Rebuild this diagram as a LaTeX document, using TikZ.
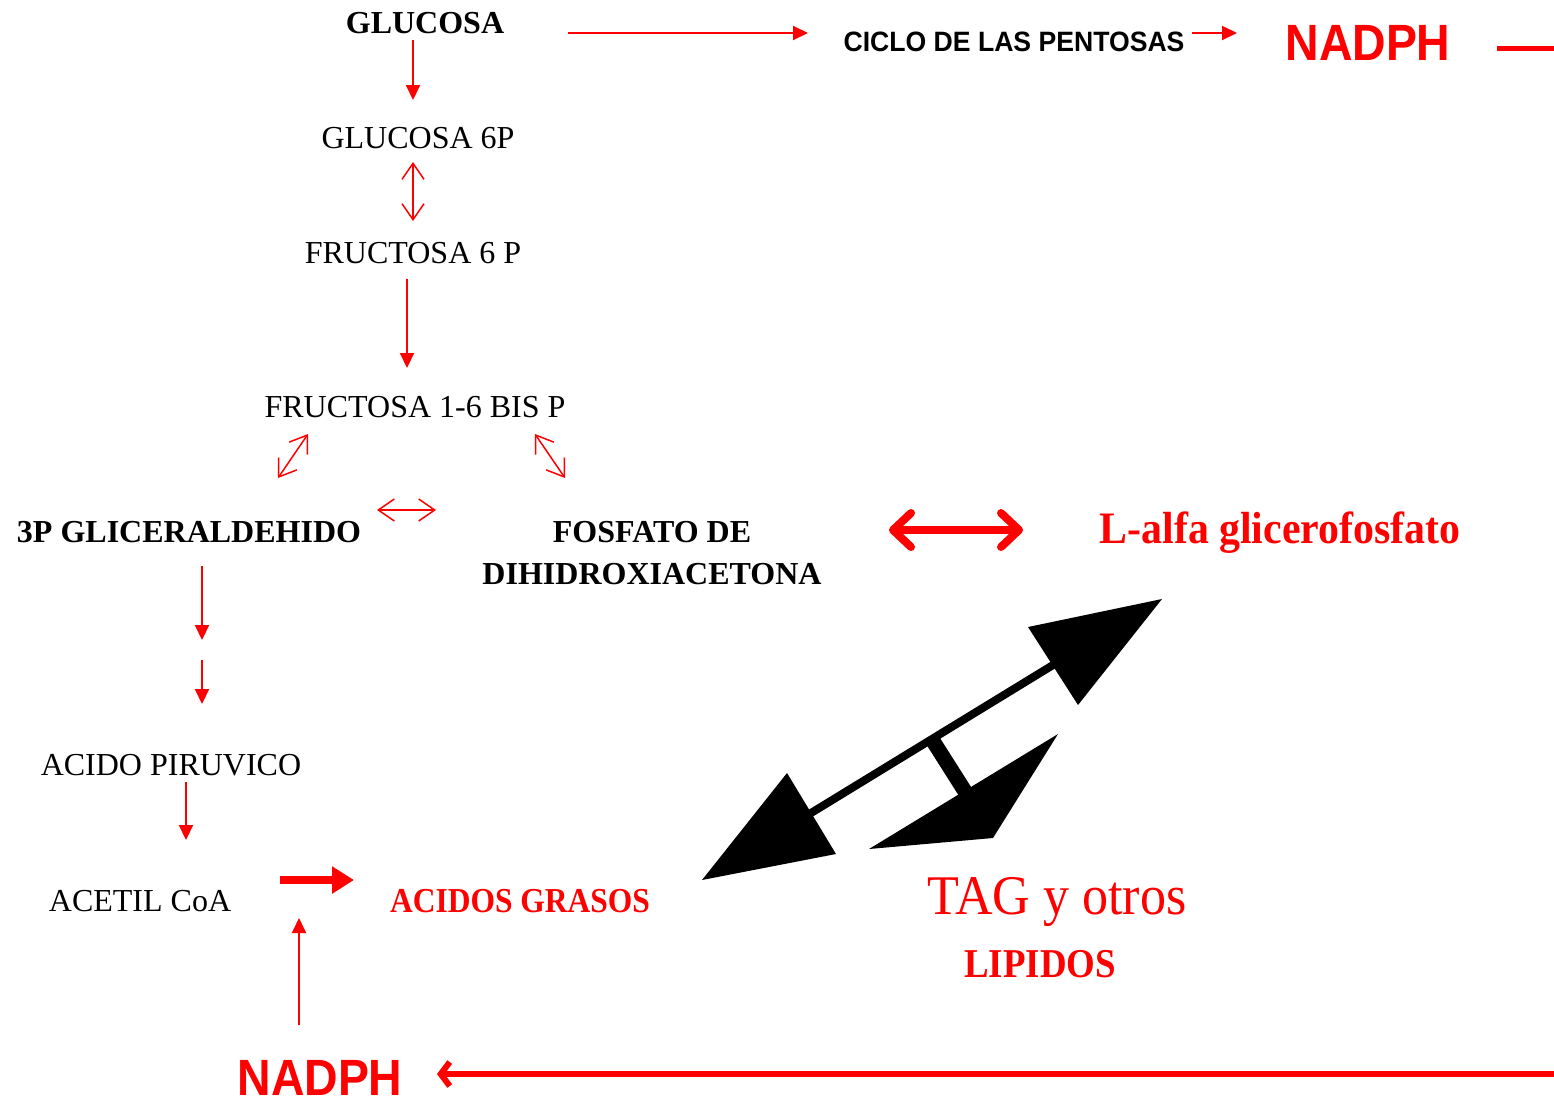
\documentclass[tikz,border=0pt]{standalone}
\usepackage{fontspec}
\setmainfont{Liberation Serif}
\newfontfamily\arialf{Liberation Sans}
\usetikzlibrary{arrows.meta}
\definecolor{rd}{RGB}{255,0,0}
\newcommand\sqz[2]{\scalebox{#1}[1]{#2}}
\tikzset{
  lbl/.style={anchor=base, inner sep=0pt, font=\fontsize{32}{42}\selectfont},
  blbl/.style={anchor=base, inner sep=0pt, font=\fontsize{32}{42}\selectfont\bfseries},
  redline/.style={draw=rd, line width=2pt},
  fwd/.style={redline, -{Triangle[length=15pt,width=14pt]}},
  rev/.style={draw=rd, line width=1.5pt, {Straight Barb[length=16pt,width=22pt]}-{Straight Barb[length=16pt,width=22pt]}},
  bigrev/.style={draw=rd, line width=8pt, {Straight Barb[length=18pt,width=34pt,round]}-{Straight Barb[length=18pt,width=34pt,round]}},
  bigfwd/.style={draw=rd, line width=8pt, -{Triangle[length=22pt,width=26pt]}},
  longback/.style={draw=rd, line width=6pt, -{Straight Barb[length=9pt,width=24pt]}},
  nadph/.style={anchor=base, inner sep=0pt, text=rd, font=\fontsize{51}{56}\selectfont\arialf\bfseries},
  blk/.style={fill=black},
}
\begin{document}
\begin{tikzpicture}[x=1pt,y=-1pt]
\useasboundingbox[fill=white] (0,0) rectangle (1554,1101);

% texts
\node[blbl] (glc) at (425,33) {GLUCOSA};
\node[anchor=base, inner sep=0pt, font=\fontsize{28}{32}\selectfont\arialf\bfseries] (ppp) at (1014,51) {\sqz{0.95}{CICLO DE LAS PENTOSAS}};
\node[nadph] (nadphA) at (1368,60) {\sqz{0.91}{NADPH}};
\node[lbl] (g6p) at (418,148) {GLUCOSA 6P};
\node[lbl] (f6p) at (413,263) {FRUCTOSA 6 P};
\node[lbl] (fbp) at (415,417) {FRUCTOSA 1-6 BIS P};
\node[blbl] (gap) at (189,542) {3P GLICERALDEHIDO};
\node[blbl, align=center] (dhap) at (652,584) {FOSFATO DE\\DIHIDROXIACETONA};
\node[anchor=base, inner sep=0pt, text=rd, font=\fontsize{45}{50}\selectfont\bfseries] (lgp) at (1280,543) {\sqz{0.93}{L-alfa glicerofosfato}};
\node[lbl] (pyr) at (171,775) {ACIDO PIRUVICO};
\node[lbl] (acoa) at (140,911) {ACETIL CoA};
\node[anchor=base, inner sep=0pt, text=rd, font=\fontsize{35}{40}\selectfont\bfseries] (fa) at (520,912) {\sqz{0.9}{ACIDOS GRASOS}};
\node[anchor=base, inner sep=0pt, text=rd, font=\fontsize{56}{60}\selectfont] (tag) at (1057,914) {\sqz{0.93}{TAG y otros}};
\node[anchor=base, inner sep=0pt, text=rd, font=\fontsize{41}{46}\selectfont\bfseries] (lip) at (1040,977) {\sqz{0.9}{LIPIDOS}};
\node[nadph] (nadphB) at (320,1095) {\sqz{0.91}{NADPH}};

% connector end points
\coordinate (c1a) at (413,40);   \coordinate (c1b) at (413,100);
\coordinate (c2a) at (568,33);   \coordinate (c2b) at (808,33);
\coordinate (c3a) at (1192,33);  \coordinate (c3b) at (1237,33);
\coordinate (c4a) at (1497,48);  \coordinate (c4b) at (1554,48);
\coordinate (c5a) at (413,162);  \coordinate (c5b) at (413,221);
\coordinate (c6a) at (407,279);  \coordinate (c6b) at (407,368);
\coordinate (c7a) at (308,434);  \coordinate (c7b) at (278,478);
\coordinate (c8a) at (535,434);  \coordinate (c8b) at (565,478);
\coordinate (c9a) at (377,510);  \coordinate (c9b) at (436,510);
\coordinate (c10a) at (889,530); \coordinate (c10b) at (1023,530);
\coordinate (c11a) at (202,566); \coordinate (c11b) at (202,640);
\coordinate (c12a) at (202,660); \coordinate (c12b) at (202,704);
\coordinate (c13a) at (186,782); \coordinate (c13b) at (186,840);
\coordinate (c14a) at (280,880); \coordinate (c14b) at (354,880);
\coordinate (c15a) at (299,1025); \coordinate (c15b) at (299,918);
\coordinate (c16a) at (1554,1074); \coordinate (c16b) at (437,1074);

\draw[fwd] (c1a) -- (c1b);
\draw[fwd] (c2a) -- (c2b);
\draw[fwd] (c3a) -- (c3b);
\draw[draw=rd, line width=5pt] (c4a) -- (c4b);
\draw[rev] (c5a) -- (c5b);
\draw[fwd] (c6a) -- (c6b);
\draw[rev] (c7a) -- (c7b);
\draw[rev] (c8a) -- (c8b);
\draw[rev] (c9a) -- (c9b);
\draw[bigrev] (c10a) -- (c10b);
\draw[fwd] (c11a) -- (c11b);
\draw[fwd] (c12a) -- (c12b);
\draw[fwd] (c13a) -- (c13b);
\draw[bigfwd] (c14a) -- (c14b);
\draw[fwd] (c15a) -- (c15b);
\draw[longback] (c16a) -- (c16b);

% big black arrows
\coordinate (llt) at (702,880);
\coordinate (urt) at (1162,599);
\draw[line width=8pt] (811,813) -- (1053,665);
\fill[blk] (llt) -- (787,773) -- (836,854) -- cycle;
\fill[blk] (urt) -- (1028,627) -- (1078,705) -- cycle;
\draw[line width=15pt] (933,741) -- (966,793);
\fill[blk] (869,849) -- (1058,734) -- (993,838) -- cycle;
\end{tikzpicture}
\end{document}
